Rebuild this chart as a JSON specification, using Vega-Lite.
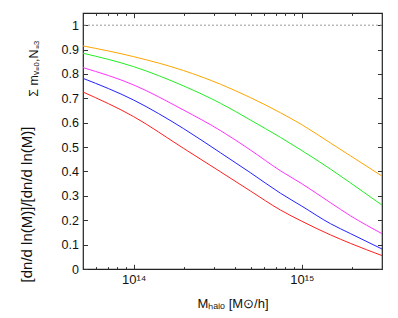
{
  "$schema": "https://vega.github.io/schema/vega-lite/v6.json",
  "width": 299,
  "height": 256,
  "autosize": {"type": "none"},
  "padding": {"left": 83, "top": 13, "right": 16, "bottom": 49},
  "config": {
    "font": "Liberation Sans",
    "view": {"stroke": "#222222", "strokeWidth": 1.2},
    "axis": {
      "domain": false,
      "grid": false,
      "tickColor": "#333333",
      "tickWidth": 1,
      "labelFont": "Liberation Sans",
      "labelFontSize": 12.5,
      "labelColor": "#111111",
      "titleFont": "Liberation Sans",
      "titleFontWeight": "normal",
      "titleColor": "#111111"
    }
  },
  "datasets": {
    "curves": [
      {"M": 5.0e13, "r": 0.915, "s": "1"},
      {"M": 1.0e14, "r": 0.871, "s": "1"},
      {"M": 1.98e14, "r": 0.814, "s": "1"},
      {"M": 3.28e14, "r": 0.758, "s": "1"},
      {"M": 4.95e14, "r": 0.703, "s": "1"},
      {"M": 7.46e14, "r": 0.641, "s": "1"},
      {"M": 1.0e15, "r": 0.592, "s": "1"},
      {"M": 1.48e15, "r": 0.517, "s": "1"},
      {"M": 1.95e15, "r": 0.464, "s": "1"},
      {"M": 3.0e15, "r": 0.381, "s": "1"},
      {"M": 5.0e13, "r": 0.885, "s": "2"},
      {"M": 1.0e14, "r": 0.830, "s": "2"},
      {"M": 1.98e14, "r": 0.751, "s": "2"},
      {"M": 3.28e14, "r": 0.680, "s": "2"},
      {"M": 4.95e14, "r": 0.611, "s": "2"},
      {"M": 7.46e14, "r": 0.540, "s": "2"},
      {"M": 1.0e15, "r": 0.486, "s": "2"},
      {"M": 1.48e15, "r": 0.410, "s": "2"},
      {"M": 1.95e15, "r": 0.353, "s": "2"},
      {"M": 3.0e15, "r": 0.262, "s": "2"},
      {"M": 5.0e13, "r": 0.826, "s": "3"},
      {"M": 1.0e14, "r": 0.755, "s": "3"},
      {"M": 1.98e14, "r": 0.652, "s": "3"},
      {"M": 3.28e14, "r": 0.568, "s": "3"},
      {"M": 4.95e14, "r": 0.488, "s": "3"},
      {"M": 7.46e14, "r": 0.403, "s": "3"},
      {"M": 1.0e15, "r": 0.350, "s": "3"},
      {"M": 1.48e15, "r": 0.272, "s": "3"},
      {"M": 1.95e15, "r": 0.218, "s": "3"},
      {"M": 3.0e15, "r": 0.145, "s": "3"},
      {"M": 5.0e13, "r": 0.782, "s": "4"},
      {"M": 1.0e14, "r": 0.693, "s": "4"},
      {"M": 1.98e14, "r": 0.576, "s": "4"},
      {"M": 3.28e14, "r": 0.477, "s": "4"},
      {"M": 4.95e14, "r": 0.395, "s": "4"},
      {"M": 7.46e14, "r": 0.311, "s": "4"},
      {"M": 1.0e15, "r": 0.258, "s": "4"},
      {"M": 1.48e15, "r": 0.186, "s": "4"},
      {"M": 1.95e15, "r": 0.145, "s": "4"},
      {"M": 3.0e15, "r": 0.082, "s": "4"},
      {"M": 5.0e13, "r": 0.726, "s": "5"},
      {"M": 1.0e14, "r": 0.625, "s": "5"},
      {"M": 1.98e14, "r": 0.495, "s": "5"},
      {"M": 3.28e14, "r": 0.399, "s": "5"},
      {"M": 4.95e14, "r": 0.320, "s": "5"},
      {"M": 7.46e14, "r": 0.242, "s": "5"},
      {"M": 1.0e15, "r": 0.196, "s": "5"},
      {"M": 1.48e15, "r": 0.140, "s": "5"},
      {"M": 1.95e15, "r": 0.105, "s": "5"},
      {"M": 3.0e15, "r": 0.055, "s": "5"}
    ],
    "unity": [{"r": 1}]
  },
  "layer": [
    {
      "data": {"name": "curves"},
      "mark": {"type": "line", "strokeWidth": 1, "interpolate": "monotone", "clip": true},
      "encoding": {
        "x": {
          "field": "M", "type": "quantitative",
          "scale": {"type": "log", "domain": [5e13, 3e15], "nice": false},
          "axis": {
            "orient": "bottom",
            "values": [1e14, 1e15],
            "labelExpr": "datum.value < 5e14 ? '10¹⁴' : '10¹⁵'",
            "tickSize": -4.7,
            "labelPadding": 9,
            "labelFontSize": 13,
            "title": "Mₕₐₗₒ [M⊙/h]",
            "titleFontSize": 13,
            "titleX": 149.5,
            "titleY": 38,
            "titleBaseline": "alphabetic"
          }
        },
        "y": {
          "field": "r", "type": "quantitative",
          "scale": {"domain": [0, 1.05], "nice": false, "zero": false},
          "axis": {
            "orient": "left",
            "values": [0, 0.1, 0.2, 0.3, 0.4, 0.5, 0.6, 0.7, 0.8, 0.9, 1],
            "format": ".1~f",
            "tickSize": -4.5,
            "labelPadding": 9,
            "title": "[dn/d ln(M)]/[dn/d ln(M)]",
            "titleFontSize": 15,
            "titleX": -52,
            "titleY": 191,
            "titleBaseline": "alphabetic"
          }
        },
        "color": {
          "field": "s", "type": "nominal",
          "scale": {"domain": ["1", "2", "3", "4", "5"], "range": ["#ffa500", "#22ee22", "#ff33ff", "#2222ff", "#ff2020"]},
          "legend": null
        }
      }
    },
    {
      "data": {"name": "unity"},
      "mark": {"type": "rule", "strokeDash": [2, 2], "color": "#999999", "strokeWidth": 1},
      "encoding": {
        "y": {
          "field": "r", "type": "quantitative",
          "axis": {
            "orient": "right",
            "values": [0, 0.1, 0.2, 0.3, 0.4, 0.5, 0.6, 0.7, 0.8, 0.9, 1],
            "labels": false,
            "tickSize": -4.5,
            "title": null
          }
        }
      }
    },
    {
      "data": {"name": "curves"},
      "mark": {"type": "point", "opacity": 0},
      "encoding": {
        "x": {
          "field": "M", "type": "quantitative",
          "axis": {"orient": "top", "values": [1e14, 1e15], "labels": false, "tickSize": -4.7, "title": null}
        },
        "y": {
          "field": "r", "type": "quantitative",
          "axis": {
            "orient": "left",
            "labels": false,
            "ticks": false,
            "title": "Σ mᵥ₌₀,N₌₃",
            "titleFontSize": 12.5,
            "titleX": -46,
            "titleY": 55,
            "titleBaseline": "alphabetic"
          }
        }
      }
    },
    {
      "data": {"name": "curves"},
      "mark": {"type": "point", "opacity": 0},
      "encoding": {
        "x": {
          "field": "M", "type": "quantitative",
          "axis": {"orient": "bottom", "values": [6e13, 7e13, 8e13, 9e13, 2e14, 3e14, 4e14, 5e14, 6e14, 7e14, 8e14, 9e14, 2e15], "labels": false, "tickSize": -2.4, "title": null}
        },
        "y": {"field": "r", "type": "quantitative", "axis": null}
      }
    },
    {
      "data": {"name": "curves"},
      "mark": {"type": "point", "opacity": 0},
      "encoding": {
        "x": {
          "field": "M", "type": "quantitative",
          "axis": {"orient": "top", "values": [6e13, 7e13, 8e13, 9e13, 2e14, 3e14, 4e14, 5e14, 6e14, 7e14, 8e14, 9e14, 2e15], "labels": false, "tickSize": -2.4, "title": null}
        },
        "y": {"field": "r", "type": "quantitative", "axis": null}
      }
    }
  ],
  "resolve": {"axis": {"x": "independent", "y": "independent"}}
}
